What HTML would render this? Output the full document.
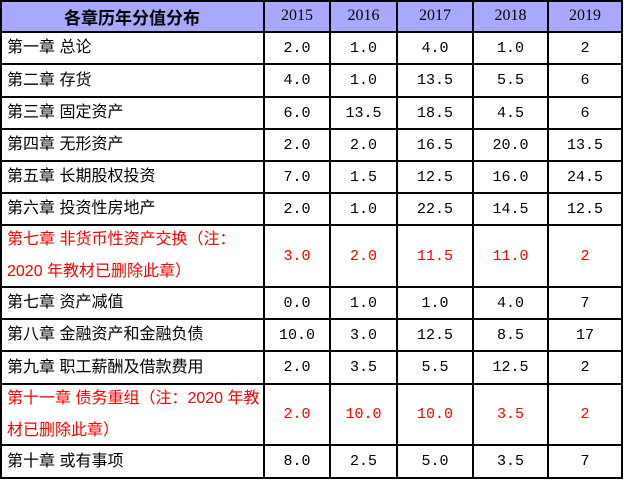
<!DOCTYPE html>
<html><head><meta charset="utf-8"><style>
body{margin:0;width:624px;height:480px;background:#fff;overflow:hidden;position:relative}
.c{position:absolute;display:flex;align-items:center;justify-content:center;font-family:"Liberation Mono","Noto Sans CJK SC",monospace;font-size:15px;color:#000}
.l{justify-content:flex-start;padding-left:7px;font-family:"Liberation Sans","Noto Sans CJK SC",sans-serif;font-size:16px;line-height:32px}
.r{color:#f00}
.hl{position:absolute;left:0;width:623px;height:2px;background:#000}
.vl{position:absolute;top:0;width:2px;height:479px;background:#000}
.c0{left:0;width:264px}.c1{left:264px;width:66px}.c2{left:330px;width:67px}.c3{left:397px;width:76px}.c4{left:473px;width:75px}.c5{left:548px;width:74px}
.y{font-family:"Liberation Serif","Noto Sans CJK SC",serif;font-size:16px}
</style></head><body>
<div style="position:absolute;left:0;top:0;width:622px;height:32px;background:#a8a8ff"></div>
<div class="c c0" style="top:0;height:32px;font-family:'Liberation Sans','Noto Sans CJK SC',sans-serif;font-weight:bold;font-size:17px">各章历年分值分布</div>
<div class="c c1 y" style="top:0;height:32px">2015</div><div class="c c2 y" style="top:0;height:32px">2016</div><div class="c c3 y" style="top:0;height:32px">2017</div><div class="c c4 y" style="top:0;height:32px">2018</div><div class="c c5 y" style="top:0;height:32px">2019</div>

<div class="c c0 l" style="top:32px;height:32px">第一章 总论</div><div class="c c1" style="top:32px;height:32px">2.0</div><div class="c c2" style="top:32px;height:32px">1.0</div><div class="c c3" style="top:32px;height:32px">4.0</div><div class="c c4" style="top:32px;height:32px">1.0</div><div class="c c5" style="top:32px;height:32px">2</div>
<div class="c c0 l" style="top:64px;height:33px">第二章 存货</div><div class="c c1" style="top:64px;height:33px">4.0</div><div class="c c2" style="top:64px;height:33px">1.0</div><div class="c c3" style="top:64px;height:33px">13.5</div><div class="c c4" style="top:64px;height:33px">5.5</div><div class="c c5" style="top:64px;height:33px">6</div>
<div class="c c0 l" style="top:97px;height:32px">第三章 固定资产</div><div class="c c1" style="top:97px;height:32px">6.0</div><div class="c c2" style="top:97px;height:32px">13.5</div><div class="c c3" style="top:97px;height:32px">18.5</div><div class="c c4" style="top:97px;height:32px">4.5</div><div class="c c5" style="top:97px;height:32px">6</div>
<div class="c c0 l" style="top:129px;height:32px">第四章 无形资产</div><div class="c c1" style="top:129px;height:32px">2.0</div><div class="c c2" style="top:129px;height:32px">2.0</div><div class="c c3" style="top:129px;height:32px">16.5</div><div class="c c4" style="top:129px;height:32px">20.0</div><div class="c c5" style="top:129px;height:32px">13.5</div>
<div class="c c0 l" style="top:161px;height:32px">第五章 长期股权投资</div><div class="c c1" style="top:161px;height:32px">7.0</div><div class="c c2" style="top:161px;height:32px">1.5</div><div class="c c3" style="top:161px;height:32px">12.5</div><div class="c c4" style="top:161px;height:32px">16.0</div><div class="c c5" style="top:161px;height:32px">24.5</div>
<div class="c c0 l" style="top:193px;height:32px">第六章 投资性房地产</div><div class="c c1" style="top:193px;height:32px">2.0</div><div class="c c2" style="top:193px;height:32px">1.0</div><div class="c c3" style="top:193px;height:32px">22.5</div><div class="c c4" style="top:193px;height:32px">14.5</div><div class="c c5" style="top:193px;height:32px">12.5</div>
<div class="c c0 l r" style="top:225px;height:62px">第七章 非货币性资产交换（注：<br>2020 年教材已删除此章）</div><div class="c c1 r" style="top:225px;height:62px">3.0</div><div class="c c2 r" style="top:225px;height:62px">2.0</div><div class="c c3 r" style="top:225px;height:62px">11.5</div><div class="c c4 r" style="top:225px;height:62px">11.0</div><div class="c c5 r" style="top:225px;height:62px">2</div>
<div class="c c0 l" style="top:287px;height:32px">第七章 资产减值</div><div class="c c1" style="top:287px;height:32px">0.0</div><div class="c c2" style="top:287px;height:32px">1.0</div><div class="c c3" style="top:287px;height:32px">1.0</div><div class="c c4" style="top:287px;height:32px">4.0</div><div class="c c5" style="top:287px;height:32px">7</div>
<div class="c c0 l" style="top:319px;height:32px">第八章 金融资产和金融负债</div><div class="c c1" style="top:319px;height:32px">10.0</div><div class="c c2" style="top:319px;height:32px">3.0</div><div class="c c3" style="top:319px;height:32px">12.5</div><div class="c c4" style="top:319px;height:32px">8.5</div><div class="c c5" style="top:319px;height:32px">17</div>
<div class="c c0 l" style="top:351px;height:33px">第九章 职工薪酬及借款费用</div><div class="c c1" style="top:351px;height:33px">2.0</div><div class="c c2" style="top:351px;height:33px">3.5</div><div class="c c3" style="top:351px;height:33px">5.5</div><div class="c c4" style="top:351px;height:33px">12.5</div><div class="c c5" style="top:351px;height:33px">2</div>
<div class="c c0 l r" style="top:384px;height:61px">第十一章 债务重组（注：2020 年教<br>材已删除此章）</div><div class="c c1 r" style="top:384px;height:61px">2.0</div><div class="c c2 r" style="top:384px;height:61px">10.0</div><div class="c c3 r" style="top:384px;height:61px">10.0</div><div class="c c4 r" style="top:384px;height:61px">3.5</div><div class="c c5 r" style="top:384px;height:61px">2</div>
<div class="c c0 l" style="top:445px;height:33px">第十章 或有事项</div><div class="c c1" style="top:445px;height:33px">8.0</div><div class="c c2" style="top:445px;height:33px">2.5</div><div class="c c3" style="top:445px;height:33px">5.0</div><div class="c c4" style="top:445px;height:33px">3.5</div><div class="c c5" style="top:445px;height:33px">7</div>

<div class="hl" style="top:0"></div><div class="hl" style="top:31px"></div><div class="hl" style="top:63px"></div><div class="hl" style="top:96px"></div><div class="hl" style="top:128px"></div><div class="hl" style="top:160px"></div><div class="hl" style="top:192px"></div><div class="hl" style="top:224px"></div><div class="hl" style="top:286px"></div><div class="hl" style="top:318px"></div><div class="hl" style="top:350px"></div><div class="hl" style="top:383px"></div><div class="hl" style="top:444px"></div><div class="hl" style="top:477px"></div>
<div class="vl" style="left:0"></div><div class="vl" style="left:263px"></div><div class="vl" style="left:329px"></div><div class="vl" style="left:396px"></div><div class="vl" style="left:472px"></div><div class="vl" style="left:547px"></div><div class="vl" style="left:621px"></div>
</body></html>
